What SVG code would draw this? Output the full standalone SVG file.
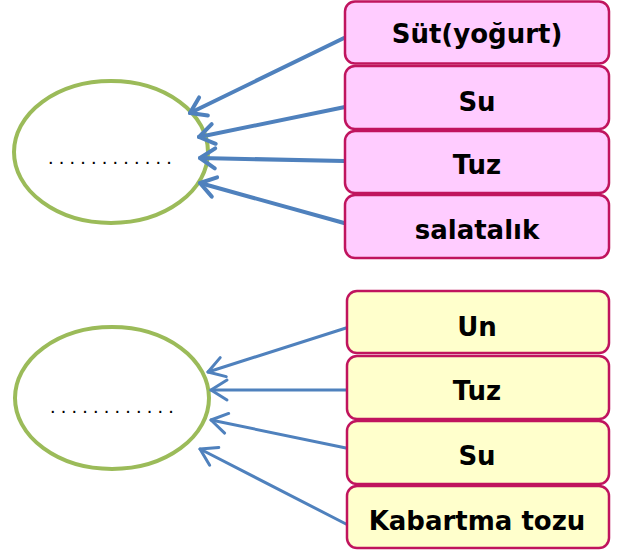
<svg xmlns="http://www.w3.org/2000/svg" width="626" height="552" viewBox="0 0 626 552">
<style>
.pink{fill:#FFCCFF;stroke:#C0145E;stroke-width:2.5}
.yel{fill:#FFFFCC;stroke:#C0145E;stroke-width:2.5}
.lbl{font-family:"DejaVu Sans",sans-serif;font-weight:bold;font-size:26px;fill:#000;text-anchor:middle}
.ell{fill:#fff;stroke:#9BBB59;stroke-width:4}
.dots{font-family:"Liberation Sans",sans-serif;font-size:20px;fill:#000;letter-spacing:5.2px}
.c1{stroke:#4F81BD;stroke-width:4;fill:none;stroke-linecap:round}
.c2{stroke:#4F81BD;stroke-width:3;fill:none;stroke-linecap:round}
</style>
<defs>
<marker id="a1" markerUnits="userSpaceOnUse" markerWidth="30" markerHeight="30" refX="0" refY="0" viewBox="-20 -15 30 30" orient="auto" overflow="visible">
<path d="M-15,-10 L0,0 L-15,10" fill="none" stroke="#4F81BD" stroke-width="4" stroke-linecap="round" stroke-linejoin="round"/>
</marker>
<marker id="a2" markerUnits="userSpaceOnUse" markerWidth="30" markerHeight="30" refX="0" refY="0" viewBox="-20 -15 30 30" orient="auto" overflow="visible">
<path d="M-16,-10 L0,0 L-16,10" fill="none" stroke="#4F81BD" stroke-width="3" stroke-linecap="round" stroke-linejoin="round"/>
</marker>
</defs>
<g id="circle1"><ellipse class="ell" cx="111" cy="152" rx="97" ry="71"/><text class="dots" x="48" y="164">............</text></g>
<g id="circle2"><ellipse class="ell" cx="112" cy="398" rx="97" ry="71"/><text class="dots" x="50" y="413">............</text></g>
<g id="connectors">
<line class="c1" x1="344" y1="38" x2="190" y2="113" marker-end="url(#a1)"/>
<line class="c1" x1="345" y1="107" x2="199" y2="137" marker-end="url(#a1)"/>
<line class="c1" x1="344" y1="161" x2="200" y2="158" marker-end="url(#a1)"/>
<line class="c1" x1="344" y1="223" x2="200" y2="183" marker-end="url(#a1)"/>
<line class="c2" x1="346" y1="328" x2="208" y2="372" marker-end="url(#a2)"/>
<line class="c2" x1="346" y1="390" x2="211" y2="390" marker-end="url(#a2)"/>
<line class="c2" x1="346" y1="448" x2="211" y2="420" marker-end="url(#a2)"/>
<line class="c2" x1="346" y1="524" x2="200" y2="449" marker-end="url(#a2)"/>
</g>
<g id="n1"><rect class="pink" x="345" y="1.5" width="264" height="62" rx="10"/><text class="lbl" x="477" y="43">Süt(yoğurt)</text></g>
<g id="n2"><rect class="pink" x="345" y="66" width="264" height="63" rx="10"/><text class="lbl" x="477" y="111">Su</text></g>
<g id="n3"><rect class="pink" x="345" y="131" width="264" height="62" rx="10"/><text class="lbl" x="477" y="174">Tuz</text></g>
<g id="n4"><rect class="pink" x="345" y="195" width="264" height="63" rx="10"/><text class="lbl" x="477" y="239">salatalık</text></g>
<g id="n5"><rect class="yel" x="347" y="291" width="262" height="62" rx="10"/><text class="lbl" x="477" y="336">Un</text></g>
<g id="n6"><rect class="yel" x="347" y="356" width="262" height="63" rx="10"/><text class="lbl" x="477" y="400">Tuz</text></g>
<g id="n7"><rect class="yel" x="347" y="421" width="262" height="63" rx="10"/><text class="lbl" x="477" y="465">Su</text></g>
<g id="n8"><rect class="yel" x="347" y="486" width="262" height="62" rx="10"/><text class="lbl" x="477" y="530">Kabartma tozu</text></g>
</svg>
